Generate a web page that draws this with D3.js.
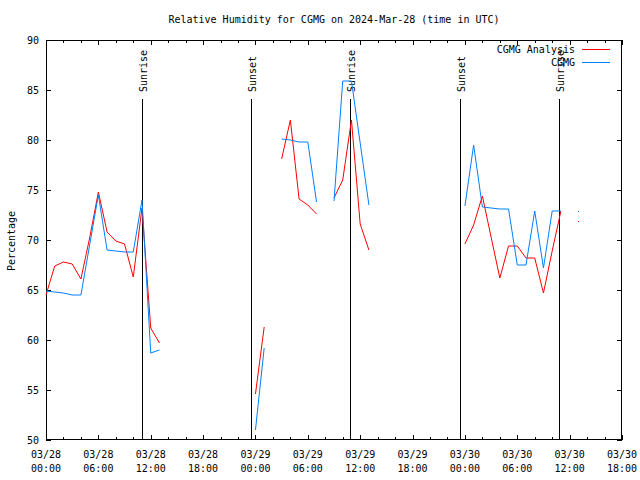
<!DOCTYPE html>
<html><head><meta charset="utf-8">
<script src="https://cdn.jsdelivr.net/npm/d3@7"></script>
<style>
html,body{margin:0;padding:0;background:#fff;}
text{font-family:"DejaVu Sans Mono","Liberation Mono",monospace;font-size:10px;fill:#000;}
</style></head>
<body>
<svg id="chart" width="640" height="480"></svg>
<script>
// Hours since 2024-03-28 00:00 UTC
const hours = d3.range(0, 67);
// CGMG Analysis (red)
const analysis = [64.5,67.4,67.8,67.6,66.1,70.2,74.8,70.8,69.9,69.6,66.3,73.2,61.2,59.7,
  null,null,null,null,null,null,null,null,null,null,
  54.6,61.3,null,78.1,82.0,74.1,73.5,72.6,null,74.2,76.0,82.0,71.6,69.0,
  null,null,null,null,null,null,null,null,null,null,
  69.6,71.5,74.4,70.3,66.2,69.4,69.4,68.2,68.2,64.7,68.9,72.9,null,71.9,
  null,null,null,null,null];
// CGMG observations (blue)
const observed = [64.9,64.8,64.7,64.5,64.5,69.5,74.5,69.0,68.9,68.8,68.8,74.0,58.7,59.0,
  null,null,null,null,null,null,null,null,null,null,
  51.0,59.2,null,80.1,80.0,79.8,79.8,73.8,null,73.9,85.9,85.9,79.7,73.5,
  null,null,null,null,null,null,null,null,null,null,
  73.4,79.5,73.3,73.2,73.1,73.1,67.5,67.5,72.9,67.2,72.9,72.9,null,72.9,
  null,null,null,null,null];
// Sun events (hours since start)
const eventHours = [11.03, 23.53, 34.87, 47.48, 58.82];
const eventLabels = ["Sunrise","Sunset","Sunrise","Sunset","Sunrise"];
const eventTopValue = 84.1;
const yTicks = [50,55,60,65,70,75,80,85,90];
const seriesNames = ["CGMG Analysis","CGMG"];
const seriesColors = ["#ff0000","#0080ff"];
const titleText = "Relative Humidity for CGMG on 2024-Mar-28 (time in UTC)";
const yLabel = "Percentage";

const t0 = Date.UTC(2024,2,28,0);
const toDate = h => new Date(t0 + h*3600e3);

const svg = d3.select("#chart");
const L=46, R=622, T=40, B=440;
const x = d3.scaleUtc().domain([toDate(0), toDate(66)]).range([L,R]);
const y = d3.scaleLinear().domain([50,90]).range([B,T]);

const g = svg.append("g").attr("shape-rendering","crispEdges");

// title
svg.append("text").attr("x",(L+R)/2).attr("y",19).attr("text-anchor","middle")
  .attr("dominant-baseline","central").text(titleText);

// border
g.append("rect").attr("x",L+0.5).attr("y",T+0.5).attr("width",R-L-1).attr("height",B-T-1)
  .attr("fill","none").attr("stroke","#000");

// x ticks
const major = d3.utcHour.every(6).range(toDate(0), toDate(66.01));
const minor = d3.utcHour.every(2).range(toDate(0), toDate(66.01));
function xTicks(sel, yPos, dir){
  sel.selectAll(null).data(minor).enter().append("line")
    .attr("x1",d=>Math.round(x(d))+0.5).attr("x2",d=>Math.round(x(d))+0.5)
    .attr("y1",yPos).attr("y2",d=> yPos + dir*((d.getUTCHours()%6===0)?5:3))
    .attr("stroke","#000");
}
xTicks(g, B, -1);
xTicks(g, T, 1);
// y ticks
g.selectAll(null).data(yTicks).enter().append("line")
  .attr("x1",L).attr("x2",L+5).attr("y1",d=>Math.round(y(d))+0.5).attr("y2",d=>Math.round(y(d))+0.5).attr("stroke","#000");
g.selectAll(null).data(yTicks).enter().append("line")
  .attr("x1",R-5).attr("x2",R).attr("y1",d=>Math.round(y(d))+0.5).attr("y2",d=>Math.round(y(d))+0.5).attr("stroke","#000");
svg.selectAll(null).data(yTicks).enter().append("text")
  .attr("x",L-7).attr("y",d=>y(d)).attr("text-anchor","end").attr("dominant-baseline","central")
  .text(d=>d);
// x labels
const fmt1 = d3.utcFormat("%m/%d"), fmt2 = d3.utcFormat("%H:%M");
const xl = svg.selectAll(null).data(major).enter().append("g");
xl.append("text").attr("x",d=>x(d)).attr("y",454).attr("text-anchor","middle").attr("dominant-baseline","central").text(fmt1);
xl.append("text").attr("x",d=>x(d)).attr("y",468).attr("text-anchor","middle").attr("dominant-baseline","central").text(fmt2);

// y label
svg.append("text").attr("transform","translate(11,241) rotate(-90)").attr("text-anchor","middle")
  .attr("dominant-baseline","central").text(yLabel);

// events
eventHours.forEach((h,i)=>{
  const px = Math.round(x(toDate(h)))+0.5;
  g.append("line").attr("x1",px).attr("x2",px).attr("y1",y(eventTopValue)).attr("y2",B).attr("stroke","#000");
  svg.append("text").attr("transform",`translate(${px+4},${92}) rotate(-90)`).attr("text-anchor","start")
    .text(eventLabels[i]);
});

// series
const lines = svg.append("g");
[analysis, observed].forEach((vals,si)=>{
  const pts = hours.map((h,i)=>({d:toDate(h), v:vals[i], i}));
  const line = d3.line().defined(p=>p.v!==null).x(p=>x(p.d)).y(p=>y(p.v));
  lines.append("path").attr("d",line(pts)).attr("fill","none").attr("stroke",seriesColors[si]).attr("stroke-width",1);
  // isolated points
  pts.filter(p=>p.v!==null && (p.i===0||vals[p.i-1]===null) && (p.i===vals.length-1||vals[p.i+1]===null))
    .forEach(p=>{
      lines.append("rect").attr("x",Math.round(x(p.d))).attr("y",Math.round(y(p.v))).attr("width",1).attr("height",1)
        .attr("fill",seriesColors[si]);
    });
});

// legend
seriesNames.forEach((n,i)=>{
  const ly = 49 + i*13;
  svg.append("text").attr("x",575).attr("y",ly).attr("text-anchor","end").attr("dominant-baseline","central").text(n);
  svg.append("line").attr("x1",582).attr("x2",610).attr("y1",ly+0.5).attr("y2",ly+0.5)
    .attr("stroke",seriesColors[i]).attr("shape-rendering","crispEdges");
});
</script>
</body></html>
